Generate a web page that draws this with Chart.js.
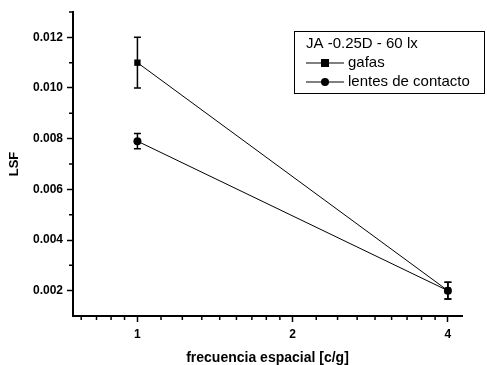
<!DOCTYPE html>
<html>
<head>
<meta charset="utf-8">
<script src="https://cdn.jsdelivr.net/npm/chart.js@4.4.0/dist/chart.umd.min.js"></script>
<style>
    html, body { margin: 0; padding: 0; background: #fff; }
    #wrap { width: 487px; height: 365px; }
</style>
</head>
<body>
<div id="wrap"><canvas id="lsfChart"></canvas></div>
<script>
// data
const freqs = [1, 4];
const gafas = [0.0110, 0.0020];
const gafasErr = [0.0010, 0.00033];
const lentes = [0.0079, 0.0020];
const lentesErr = [0.0003, 0.00033];

const xTicks = [1, 2, 4];
const yTicks = [0.002, 0.004, 0.006, 0.008, 0.010, 0.012];
const xMinor = [0.778, 0.833, 0.889, 0.944, 1.111, 1.222, 1.333, 1.444, 1.556, 1.667, 1.778, 1.889,
                2.222, 2.444, 2.667, 2.889, 3.111, 3.333, 3.556, 3.778];
const yMinor = [0.003, 0.005, 0.007, 0.009, 0.011, 0.013];

const FONT = 'Liberation Sans, Arial, sans-serif';

// error bars, drawn under the markers
const errorBars = {
    id: 'errorBars',
    beforeDatasetsDraw(chart) {
        const ctx = chart.ctx;
        const x = chart.scales.x, y = chart.scales.y;
        const sets = [[gafas, gafasErr], [lentes, lentesErr]];
        ctx.save();
        ctx.strokeStyle = '#000';
        ctx.lineWidth = 1.5;
        sets.forEach(([vals, errs]) => {
            vals.forEach((v, i) => {
                const px = x.getPixelForValue(freqs[i]);
                const top = y.getPixelForValue(v + errs[i]);
                const bot = y.getPixelForValue(v - errs[i]);
                ctx.beginPath();
                ctx.moveTo(px, top); ctx.lineTo(px, bot);
                ctx.moveTo(px - 3.5, top); ctx.lineTo(px + 3.5, top);
                ctx.moveTo(px - 3.5, bot); ctx.lineTo(px + 3.5, bot);
                ctx.stroke();
            });
        });
        ctx.restore();
    }
};

// short minor ticks on both axes
const minorTicks = {
    id: 'minorTicks',
    afterDraw(chart) {
        const ctx = chart.ctx;
        const x = chart.scales.x, y = chart.scales.y;
        const area = chart.chartArea;
        ctx.save();
        ctx.strokeStyle = '#000';
        ctx.lineWidth = 1.5;
        ctx.beginPath();
        xMinor.forEach(v => {
            const px = x.getPixelForValue(v);
            ctx.moveTo(px, area.bottom); ctx.lineTo(px, area.bottom + 4);
        });
        yMinor.forEach(v => {
            const py = y.getPixelForValue(v);
            ctx.moveTo(area.left, py); ctx.lineTo(area.left - 4, py);
        });
        ctx.stroke();
        ctx.restore();
    }
};

// boxed legend with a title line
const boxLegend = {
    id: 'boxLegend',
    afterDraw(chart) {
        const ctx = chart.ctx;
        const bx = 294, by = 31, bw = 190, bh = 62;
        ctx.save();
        ctx.strokeStyle = '#000';
        ctx.lineWidth = 1;
        ctx.strokeRect(bx + 0.5, by + 0.5, bw, bh);
        ctx.fillStyle = '#000';
        ctx.font = '15px ' + FONT;
        ctx.textBaseline = 'middle';
        ctx.fillText('JA -0.25D - 60 lx', 306, 44);

        const rows = [['gafas', 'rect', 63], ['lentes de contacto', 'circle', 82]];
        rows.forEach(([label, style, ry]) => {
            ctx.beginPath();
            ctx.moveTo(306, ry); ctx.lineTo(344, ry);
            ctx.stroke();
            if (style === 'rect') {
                ctx.fillRect(321, ry - 4, 8, 8);
            } else {
                ctx.beginPath();
                ctx.arc(325, ry, 4, 0, Math.PI * 2);
                ctx.fill();
            }
            ctx.fillText(label, 348, ry);
        });
        ctx.restore();
    }
};

document.addEventListener('DOMContentLoaded', function() {
    const tickFont = { family: FONT, size: 12, weight: 'bold' };

    new Chart(document.getElementById('lsfChart'), {
        type: 'line',
        data: {
            datasets: [{
                label: 'gafas',
                data: freqs.map((f, i) => ({ x: f, y: gafas[i] })),
                order: 0,
                borderColor: '#000',
                backgroundColor: '#000',
                borderWidth: 1,
                pointStyle: 'rect',
                pointRadius: 4.5,
                pointBorderWidth: 0
            }, {
                label: 'lentes de contacto',
                data: freqs.map((f, i) => ({ x: f, y: lentes[i] })),
                order: 1,
                borderColor: '#000',
                backgroundColor: '#000',
                borderWidth: 1,
                pointStyle: 'circle',
                pointRadius: 4,
                pointBorderWidth: 0
            }]
        },
        options: {
            responsive: true,
            maintainAspectRatio: false,
            animation: false,
            layout: { padding: { top: 12, right: 25, left: 0, bottom: 0 } },
            plugins: {
                legend: { display: false },
                tooltip: { enabled: false }
            },
            scales: {
                x: {
                    type: 'logarithmic',
                    min: 0.75,
                    max: 4.26,
                    afterBuildTicks: s => { s.ticks = xTicks.map(v => ({ value: v })); },
                    afterFit: s => { s.height = 49; },
                    ticks: {
                        autoSkip: false,
                        maxRotation: 0,
                        padding: 5,
                        color: '#000',
                        font: tickFont,
                        callback: v => String(v)
                    },
                    grid: {
                        drawOnChartArea: false,
                        tickLength: 6,
                        tickColor: '#000',
                        tickWidth: 1.5
                    },
                    border: { color: '#000', width: 2 },
                    title: {
                        display: true,
                        text: 'frecuencia espacial [c/g]',
                        color: '#000',
                        font: { family: FONT, size: 14, weight: 'bold', lineHeight: 1 },
                        padding: { top: 0, bottom: 0 }
                    }
                },
                y: {
                    min: 0.001,
                    max: 0.013,
                    afterBuildTicks: s => { s.ticks = yTicks.map(v => ({ value: v })); },
                    afterFit: s => { s.width = 73; },
                    ticks: {
                        padding: 4,
                        color: '#000',
                        font: tickFont,
                        callback: v => v.toFixed(3)
                    },
                    grid: {
                        drawOnChartArea: false,
                        tickLength: 6,
                        tickColor: '#000',
                        tickWidth: 1.5
                    },
                    border: { color: '#000', width: 2 },
                    title: {
                        display: true,
                        text: 'LSF',
                        color: '#000',
                        font: { family: FONT, size: 13, weight: 'bold' },
                        padding: { top: 7, bottom: 4 }
                    }
                }
            }
        },
        plugins: [errorBars, minorTicks, boxLegend]
    });
});
</script>
</body>
</html>
